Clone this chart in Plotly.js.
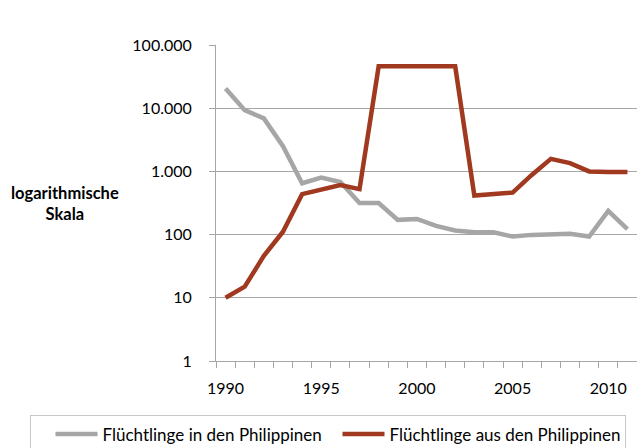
<!DOCTYPE html>
<html><head><meta charset="utf-8">
<script src="https://cdn.plot.ly/plotly-3.0.1.min.js"></script>
<style>html,body{margin:0;padding:0;background:#fff;}#chart{width:637px;height:448px;}</style>
</head><body><div id="chart"></div>
<script>
const years = [1990,1991,1992,1993,1994,1995,1996,1997,1998,1999,2000,2001,2002,2003,2004,2005,2006,2007,2008,2009,2010,2011];
const fluechtlingeIn = [20500,9300,6900,2500,650,800,680,315,315,171,177,137,116,109,109,93,99,103,103,93,237,122];
const fluechtlingeAus = [10,15,46,111,436,510,610,525,46000,46000,46000,46000,46000,414,436,462,880,1580,1350,1000,975,975];
const yTickVals = [1,10,100,1000,10000,100000];
const yTickText = ['1','10','100','1.000','10.000','100.000'];
const xTickVals = [1990,1995,2000,2005,2010];
const seriesNames = ['Flüchtlinge in den Philippinen','Flüchtlinge aus den Philippinen'];

const font = 'Lato, "Open Sans", sans-serif';
const data = [
  {x: years, y: fluechtlingeIn, name: seriesNames[0], type: 'scatter', mode: 'lines',
   line: {color: '#a6a6a6', width: 4.5}},
  {x: years, y: fluechtlingeAus, name: seriesNames[1], type: 'scatter', mode: 'lines',
   line: {color: '#a0391f', width: 4.5}}
];
const layout = {
  width: 637, height: 448,
  margin: {l: 216, r: 0, t: 45, b: 87, autoexpand: false},
  paper_bgcolor: '#fff', plot_bgcolor: '#fff',
  font: {family: font, size: 16, color: '#000'},
  showlegend: true,
  legend: {orientation: 'h', x: -0.4418, xanchor: 'left', y: -0.172, yanchor: 'top',
    bordercolor: '#c8c8c8', borderwidth: 1, font: {family: font, size: 17, color: '#000'},
    title: {text: 'n', side: 'left', font: {family: font, size: 17, color: '#ffffff'}},
    itemwidth: 42, entrywidth: 230, entrywidthmode: 'pixels', tracegroupgap: 0},
  xaxis: {range: [1989.5, 2011.5], tickvals: xTickVals, ticks: '', showgrid: false, zeroline: false,
    showline: true, linecolor: '#a6a6a6', linewidth: 1, ticklabelstandoff: 13,
    minor: {tick0: 1989.5, dtick: 1, ticks: 'outside', ticklen: 6, tickcolor: '#a6a6a6', showgrid: false},
    tickfont: {family: font, size: 16, color: '#000'}, fixedrange: true},
  yaxis: {type: 'log', range: [0, 5], tickvals: yTickVals, ticktext: yTickText,
    ticks: 'outside', ticklen: 6, tickcolor: '#a6a6a6', ticklabelstandoff: 14,
    showgrid: true, gridcolor: '#a6a6a6', gridwidth: 1, zeroline: false,
    showline: true, linecolor: '#a6a6a6', linewidth: 1,
    tickfont: {family: font, size: 16, color: '#000'}, fixedrange: true},
  annotations: [{text: '<b>logarithmische</b><br><b>Skala</b>', xref: 'paper', yref: 'paper',
    x: -0.358, y: 0.5, xanchor: 'center', yanchor: 'middle', showarrow: false, align: 'center',
    font: {family: font, size: 16.5, color: '#000'}}]
};
Plotly.newPlot('chart', data, layout, {displayModeBar: false, staticPlot: true});
</script></body></html>
